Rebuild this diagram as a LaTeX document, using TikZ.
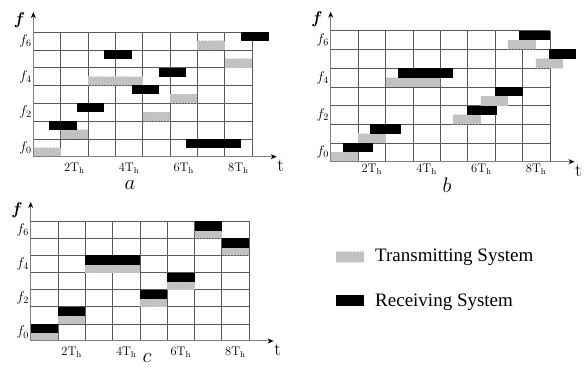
\RequirePackage{fix-cm}
\documentclass[tikz,border=0pt]{standalone}
\usepackage{fontspec}
\newfontfamily\legendfont{Liberation Serif}
\usetikzlibrary{arrows.meta,patterns}

\tikzset{
  gridline/.style={draw=black!65, line width=0.75pt},
  axisline/.style={draw=black!50, line width=1pt, -{Stealth[color=black,length=6pt,width=5pt]}},
  txbar/.style={fill=black!21, postaction={pattern=north east lines, pattern color=black!29}},
  rxbar/.style={fill=black},
  flabel/.style={left, inner sep=1.5pt, font=\fontsize{14}{14}\selectfont},
  tlabel/.style={anchor=north, inner sep=0pt, font=\fontsize{12.5}{13}\selectfont},
  axname/.style={inner sep=0pt, font=\fontsize{17}{17}\selectfont},
  panel/.style={font=\fontsize{21}{21}\selectfont},
  legend/.style={anchor=base west, inner sep=0pt, font=\legendfont\fontsize{19}{20}\selectfont},
}

% 8 hops x 7 channels, channel labels on the left
\newcommand{\hopgrid}{%
  \foreach \row in {1,...,7} \draw[gridline] (0,\row) -- (8,\row);
  \foreach \col in {1,...,8} \draw[gridline] (\col,0) -- (\col,7);
  \foreach \fk in {0,2,4,6} \node[flabel] (f\fk) at (0,\fk+.5) {$f_{\fk}$};
}
% axes: #1 = top of the f axis, #2 = gap under the t axis
\newcommand{\hopaxes}[2]{%
  \coordinate (o) at (0,0);
  \coordinate (tend) at (8.9,0);
  \coordinate (fend) at (0,#1);
  \draw[axisline] (o) -- (tend);
  \draw[axisline] (o) -- (fend);
  \node[axname, xshift=4pt, yshift=-9pt, font=\fontsize{19}{19}\selectfont] (tname) at (tend) {t};
  \node[axname, xshift=-13.5pt, yshift=-8pt] (fname) at (fend) {\textbf{\textit{f}}};
  \foreach \tk in {2,4,6,8}
    \node[tlabel, yshift=-#2] (T\tk) at (\tk-.5,0) {$\tk\mathrm{T}_{\mathrm{h}}$};
}

\begin{document}
\begin{tikzpicture}[x=1pt,y=1pt]
\useasboundingbox (0,0) rectangle (586,372);

% (a) receiver out of step
\begin{scope}[shift={(33.3,215.3)}, x=27.35pt, y=17.8pt]
  \hopgrid
  \foreach \ta/\tb/\row in {0/1/0,1/2/1,2/4/4,4/5/2,5/6/3,6/7/6,7/8/5}
    \fill[txbar] (\ta,\row) rectangle (\tb,\row+.5);
  \foreach \ta/\tb/\row in {0.58/1.58/1,1.6/2.6/2,2.6/3.6/5,3.6/4.6/3,4.6/5.6/4,5.6/7.6/0,7.6/8.6/6}
    \fill[rxbar] (\ta,\row+.5) rectangle (\tb,\row+1);
  \hopaxes{8.12}{6pt}
\end{scope}

% (b) same channels, small time offset
\begin{scope}[shift={(330.7,210.3)}, x=27.4pt, y=18.7pt]
  \hopgrid
  \foreach \ta/\tb/\row in {0/1/0,1/2/1,2/4/4,4.46/5.47/2,5.47/6.46/3,6.46/7.48/6,7.48/8.47/5}
    \fill[txbar] (\ta,\row) rectangle (\tb,\row+.5);
  \foreach \ta/\tb/\row in {0.44/1.56/0,1.45/2.55/1,2.46/4.45/4,4.97/6.08/2,6/7/3,6.89/8/6,7.95/8.95/5}
    \fill[rxbar] (\ta,\row+.5) rectangle (\tb,\row+1);
  \hopaxes{8.02}{2.5pt}
\end{scope}

% (c) synchronised
\begin{scope}[shift={(30.7,31)}, x=27.3pt, y=17.1pt]
  \hopgrid
  \foreach \ta/\tb/\row in {0/1/0,1/2/1,2/4/4,4/5/2,5/6/3,6/7/6,7/8/5}{
    \fill[txbar] (\ta,\row) rectangle (\tb,\row+.45);
    \fill[rxbar] (\ta,\row+.45) rectangle (\tb,\row+1);
  }
  \hopaxes{8.13}{5.7pt}
\end{scope}

\node[panel] (capa) at (130,187) {$a$};
\node[panel] (capb) at (447,187) {$b$};
\node[panel] (capc) at (147,14) {$c$};

% legend
\fill[txbar] (336,109.7) rectangle (364,120.3);
\fill[rxbar] (336,66) rectangle (364,77);
\node[legend] (tx) at (375,110.3) {Transmitting System};
\node[legend] (rx) at (375,65.3) {Receiving System};

\end{tikzpicture}
\end{document}
